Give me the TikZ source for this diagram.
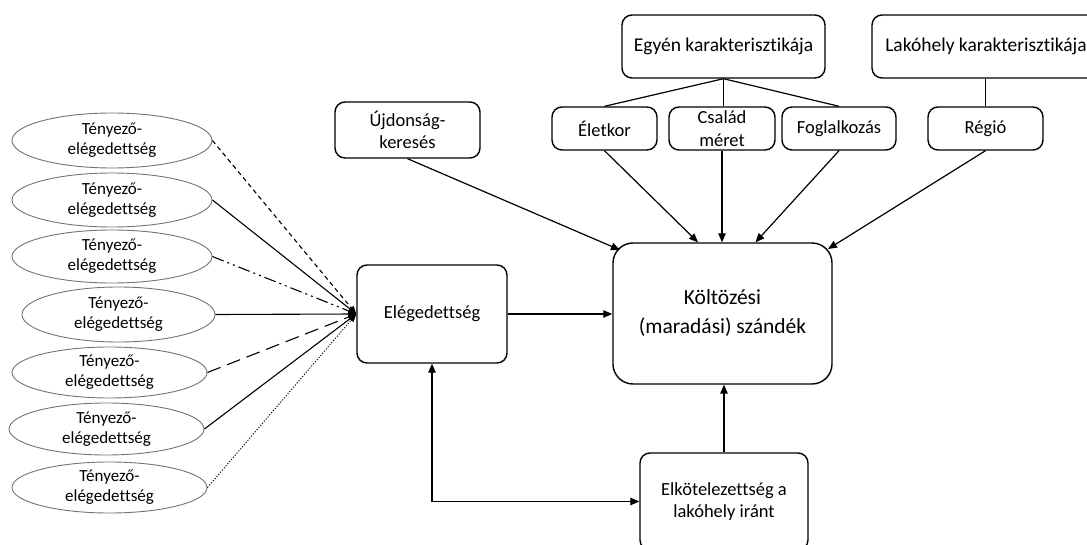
\documentclass[tikz,border=0pt]{standalone}
\usepackage{fontspec}
\setmainfont{Carlito}[Ligatures=NoCommon]
\usetikzlibrary{arrows.meta,calc,shapes.geometric}

\tikzset{
  box/.style={draw, line width=1.4pt, rounded corners=10pt, align=center,
    inner sep=0pt, font=\fontsize{18.5}{22}\selectfont},
  topbox/.style={box, font=\fontsize{19.5}{23}\selectfont},
  bigbox/.style={box, rounded corners=20pt, font=\fontsize{21.5}{29}\selectfont},
  factor/.style={draw=black!55, line width=0.9pt, ellipse, align=center,
    inner sep=0pt, font=\fontsize{17}{20}\selectfont},
  link/.style={line width=1.2pt},
  arr/.style={link, -{Triangle[length=9pt,width=7.5pt]}},
  biarr/.style={link, {Triangle[length=9pt,width=7.5pt]}-{Triangle[length=9pt,width=7.5pt]}},
  feed/.style={line width=1.1pt, -{Triangle[length=8pt,width=6pt]}},
}

\begin{document}
\begin{tikzpicture}[x=1pt, y=-1pt]
\useasboundingbox (0,0) rectangle (1087,545);
\clip (0,0) rectangle (1087,545);

% characteristic groups
\node[topbox, minimum width=203pt, minimum height=63pt] (egyen) at (723.5,46.5) {Egyén karakterisztikája};
\node[topbox, minimum width=228pt, minimum height=63pt] (lakohely) at (986,46.5) {Lakóhely karakterisztikája};

% individual factors
\node[box, minimum width=145pt, minimum height=56pt] (ujd) at (407.5,130) {Újdonság-\\keresés};
\node[box, minimum width=105pt, minimum height=43pt] (eletkor) at (604.5,128.5) {Életkor};
\node[box, minimum width=106pt, minimum height=43pt, font=\fontsize{18.5}{23}\selectfont] (csalad) at (722,128.5) {Család\\méret};
\node[box, minimum width=114pt, minimum height=43pt] (foglal) at (839,128.5) {Foglalkozás};
\node[box, minimum width=115pt, minimum height=43pt] (regio) at (985.5,128.5) {Régió};

% central constructs
\node[box, minimum width=150pt, minimum height=98pt] (eleg) at (432,314) {Elégedettség};
\node[bigbox, minimum width=219pt, minimum height=141pt] (kolt) at (722.5,313.5) {Költözési\\(maradási) szándék};
\node[box, minimum width=168pt, minimum height=97pt] (elkot) at (724,501.5) {Elkötelezettség a\\lakóhely iránt};

% satisfaction factors
\node[factor, minimum width=200pt, minimum height=55pt] (f1) at (112,140.5) {Tényező-\\elégedettség};
\node[factor, minimum width=200pt, minimum height=54pt] (f2) at (112,200) {Tényező-\\elégedettség};
\node[factor, minimum width=200pt, minimum height=53pt] (f3) at (112,256.5) {Tényező-\\elégedettség};
\node[factor, minimum width=193pt, minimum height=55pt] (f4) at (118.5,314.5) {Tényező-\\elégedettség};
\node[factor, minimum width=195pt, minimum height=51pt] (f5) at (109.5,372.5) {Tényező-\\elégedettség};
\node[factor, minimum width=195pt, minimum height=52pt] (f6) at (106.5,429) {Tényező-\\elégedettség};
\node[factor, minimum width=195pt, minimum height=51pt] (f7) at (109.5,487.5) {Tényező-\\elégedettség};

% hierarchy lines
\draw[link] (egyen.south) -- (eletkor.north);
\draw[link] (egyen.south) -- (egyen.south |- csalad.north);
\draw[link] (egyen.south) -- (foglal.north);
\draw[link] (lakohely.south -| regio.north) -- (regio.north);

% influences on the intention
\coordinate (tU) at (620,250);
\coordinate (tE) at ($(kolt.north)+(-24.5,0)$);
\coordinate (tC) at (csalad.south |- kolt.north);
\coordinate (tF) at ($(kolt.north)+(33,0)$);
\coordinate (tR) at (828,249);
\draw[arr] (ujd.south) -- (tU);
\draw[arr] (eletkor.south) -- (tE);
\draw[arr] (csalad.south) -- (tC);
\draw[arr] (foglal.south) -- (tF);
\draw[arr] (regio.south) -- (tR);

\draw[arr] (eleg.east) -- (kolt.west |- eleg.east);
\draw[arr] (elkot.north) -- (elkot.north |- kolt.south);
\draw[biarr] (elkot.west) -| (eleg.south);

% factor contributions to satisfaction
\draw[feed, dash pattern=on 4.5pt off 3.5pt] (f1.east) -- (eleg.west);
\draw[feed] (f2.east) -- (eleg.west);
\draw[feed, dash pattern=on 12pt off 4pt on 2pt off 4pt on 2pt off 4pt] (f3.east) -- (eleg.west);
\draw[feed] (f4.east) -- (eleg.west);
\draw[feed, dash pattern=on 14pt off 7pt] (f5.east) -- (eleg.west);
\draw[feed] (f6.east) -- (eleg.west);
\draw[feed, line width=0.9pt, dash pattern=on 1.2pt off 1.6pt] (f7.east) -- (eleg.west);
\end{tikzpicture}
\end{document}
